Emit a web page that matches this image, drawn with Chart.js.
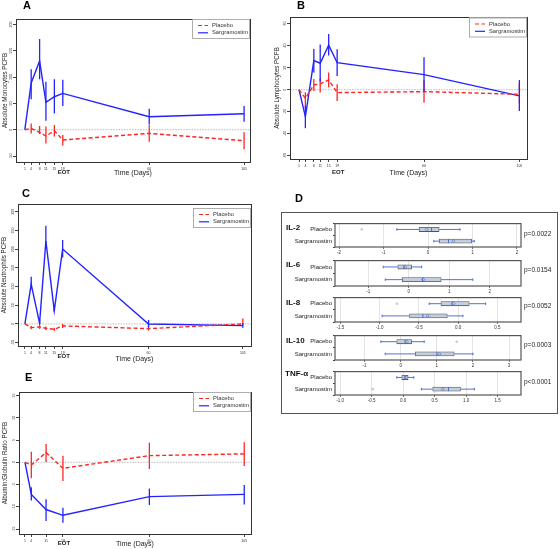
<!DOCTYPE html>
<html><head><meta charset="utf-8">
<script src="https://cdn.jsdelivr.net/npm/chart.js@4.4.1/dist/chart.umd.min.js"></script>
<style>
body{margin:0;background:#fff;width:560px;height:549px;position:relative;overflow:hidden;font-family:"Liberation Sans",Arial,sans-serif;}
canvas{position:absolute;}
.pl{position:absolute;font-size:11px;font-weight:bold;line-height:1;color:#000}
.cy{position:absolute;font-size:8px;font-weight:bold;line-height:1;color:#111}
.pv{position:absolute;font-size:6.5px;line-height:1;color:#222}
#dframe{position:absolute;left:281px;top:212px;width:275px;height:200px;border:1.5px solid #555;}
</style></head>
<body>
<div id="dframe"></div>
<canvas id="cA" width="280" height="180" style="left:0;top:0"></canvas>
<canvas id="cB" width="290" height="180" style="left:270px;top:0"></canvas>
<canvas id="cC" width="280" height="190" style="left:0;top:180px"></canvas>
<canvas id="cE" width="280" height="179" style="left:0;top:370px"></canvas>
<canvas id="d1" width="245" height="38" style="left:282px;top:219px"></canvas>
<canvas id="d2" width="245" height="40" style="left:282px;top:256px"></canvas>
<canvas id="d3" width="245" height="39" style="left:282px;top:293px"></canvas>
<canvas id="d4" width="245" height="39" style="left:282px;top:331px"></canvas>
<canvas id="d5" width="245" height="38" style="left:282px;top:367px"></canvas>
<div class="pl" style="left:23px;top:0px">A</div>
<div class="pl" style="left:297px;top:0px">B</div>
<div class="pl" style="left:22px;top:188px">C</div>
<div class="pl" style="left:295px;top:193px">D</div>
<div class="pl" style="left:25px;top:372px">E</div>
<div class="cy" style="left:286px;top:224px">IL-2</div>
<div class="cy" style="left:286px;top:261px">IL-6</div>
<div class="cy" style="left:286px;top:299px">IL-8</div>
<div class="cy" style="left:286px;top:337px">IL-10</div>
<div class="cy" style="left:285px;top:370px">TNF-α</div>
<div class="pv" style="left:524px;top:231px">p=0.0022</div>
<div class="pv" style="left:524px;top:267px">p=0.0154</div>
<div class="pv" style="left:524px;top:303px">p=0.0052</div>
<div class="pv" style="left:524px;top:342px">p=0.0003</div>
<div class="pv" style="left:524px;top:379px">p&lt;0.0001</div>
<script>
const FF = "'Liberation Sans', Arial, sans-serif";
const RED = '#ff2424', BLUE = '#2323ff';

// ---- time axes ----
const days = [1, 4, 8, 11, 15, 19, 60, 105];
const daysE = [1, 4, 11, 19, 60, 105];

// ---- A: monocytes ----
const monoPlacebo   = [0, 2.7, -5, -12, -2, -19.6, -7, -21];
const monoPlaceboLo = [0, -7, -8, -26, -13, -30, -23, -37];
const monoPlaceboHi = [0, 12, 7, 6, 9, -10, 9, -5];
const monoSarg      = [0, 89, 130.6, 52, 62.7, 69, 24.7, 30.4];
const monoSargLo    = [0, 58, 96, 17, 31, 45, 10, 15];
const monoSargHi    = [0, 115, 172.4, 91, 96, 95, 40, 45];
const monoTicks = [-50, 0, 50, 100, 150, 200];

// ---- B: lymphocytes ----
const lymPlacebo   = [0, -7.8, 4.3, 5.2, 8.8, -2.7, -1.8, -4.2];
const lymPlaceboLo = [0, -16, -1.2, -2.7, 2.2, -10.3, -11.8, -12.4];
const lymPlaceboHi = [0, -2.4, 9.7, 10.4, 15.5, 4.9, 8.8, 5.8];
const lymSarg      = [0, -24.5, 26.4, 24, 40.4, 24.5, 13.6, -5.7];
const lymSargLo    = [0, -35, 15.5, 7.3, 31, 12.5, -1.8, -19.4];
const lymSargHi    = [0, -14.8, 37, 41, 50.6, 36.7, 29.5, 8.8];
const lymTicks = [-60, -40, -20, 0, 20, 40, 60];

// ---- C: neutrophils ----
const neuPlacebo   = [0, -9.8, -8, -11.6, -14.3, -5.3, -12.5, 0];
const neuPlaceboLo = [0, -14.3, -13.2, -16, -19, -10.7, -17.8, -1.8];
const neuPlaceboHi = [0, -5.3, -4.3, -7, -10, 0, -5.3, 14.3];
const neuSarg      = [0, 106, 2, 222, 35.6, 200.5, 0, -4.5];
const neuSargLo    = [0, 95.5, 0, 211, 33, 178, -9, -10];
const neuSargHi    = [0, 126.5, 10, 263, 42, 224.6, 10.7, 2];
const neuTicks = [-50, 0, 50, 100, 150, 200, 250, 300];

// ---- E: albumin:globulin ----
const agPlacebo   = [0, -0.6, 2.2, -1.35, 1.5, 1.9];
const agPlaceboLo = [0, -3.6, 0.1, -4.2, -1.5, -0.8];
const agPlaceboHi = [0, 2.4, 4.1, 1.5, 4.4, 4.5];
const agSarg      = [0, -7.2, -10.6, -11.9, -7.7, -7.2];
const agSargLo    = [0, -8.6, -13.2, -13.6, -9.6, -9.5];
const agSargHi    = [0, -5.6, -8.3, -10.2, -5.9, -5.1];
const agTicks = [-15, -10, -5, 0, 5, 10, 15];

// ---- D: cytokines  [lowWhisker, q1, median, q3, highWhisker, mean] ----
const groups = ['Placebo', 'Sargramostim'];
const il2Placebo = [-0.70, -0.20, 0.08, 0.25, 0.72, -0.03], il2PlaceboOut = [-1.49];
const il2Sarg    = [0.13, 0.25, 0.46, 0.98, 1.04, 0.57],    il2SargOut = [];
const il6Placebo = [-0.63, -0.27, -0.12, 0.07, 0.32, -0.09], il6PlaceboOut = [];
const il6Sarg    = [-0.58, -0.16, 0.34, 0.80, 1.58, 0.36],   il6SargOut = [];
const il8Placebo = [-0.37, -0.22, -0.08, 0.14, 0.35, -0.06], il8PlaceboOut = [-0.78];
const il8Sarg    = [-0.97, -0.62, -0.45, -0.14, 0.06, -0.39], il8SargOut = [];
const il10Placebo = [-0.55, -0.11, 0.12, 0.30, 0.65, 0.17], il10PlaceboOut = [1.55];
const il10Sarg    = [-0.43, 0.40, 1.00, 1.48, 2.00, 1.07],  il10SargOut = [];
const tnfPlacebo = [-0.10, -0.02, 0.03, 0.08, 0.17, 0.04], tnfPlaceboOut = [];
const tnfSarg    = [0.29, 0.47, 0.72, 0.91, 1.13, 0.63],   tnfSargOut = [-0.48];
const il2Ticks = [-2, -1, 0, 1, 2];
const il6Ticks = [-1, 0, 1, 2];
const il8Ticks = [-1.5, -1, -0.5, 0, 0.5];
const il10Ticks = [-1, 0, 1, 2, 3];
const tnfTicks = [-1, -0.5, 0, 0.5, 1, 1.5];

const linePlugin = {
  id: 'linePlugin',
  beforeDatasetsDraw(chart) {
    const {ctx, chartArea: a, scales: {y}} = chart;
    const y0 = y.getPixelForValue(0);
    ctx.save();
    ctx.strokeStyle = '#c9c9c9'; ctx.lineWidth = 1.3; ctx.setLineDash([1.5, 1.2]);
    ctx.beginPath(); ctx.moveTo(a.left, y0); ctx.lineTo(a.right, y0); ctx.stroke();
    ctx.restore();
  },
  afterDatasetsDraw(chart) {
    const {ctx, scales: {x, y}} = chart;
    chart.data.datasets.forEach(ds => {
      ctx.save();
      ctx.strokeStyle = ds.borderColor; ctx.lineWidth = 1.3;
      ds.data.forEach((pt, j) => {
        if (ds.lo[j] === ds.hi[j]) return;
        const px = x.getPixelForValue(pt.x);
        ctx.beginPath();
        ctx.moveTo(px, y.getPixelForValue(ds.lo[j]));
        ctx.lineTo(px, y.getPixelForValue(ds.hi[j]));
        ctx.stroke();
      });
      ctx.restore();
    });
  },
  afterDraw(chart) {
    const {ctx, chartArea: a, scales: {x, y}} = chart;
    const o = chart.options.plugins.linePlugin;
    ctx.save();
    // frame
    ctx.strokeStyle = '#333'; ctx.lineWidth = 1;
    ctx.strokeRect(a.left + 0.5, a.top + 0.5, a.right - a.left, a.bottom - a.top);
    // rotated y tick labels
    ctx.fillStyle = '#333';
    ctx.font = '3.6px ' + FF;
    y.ticks.forEach(t => {
      const py = y.getPixelForValue(t.value);
      ctx.save();
      ctx.translate(a.left - 3.5, py);
      ctx.rotate(-Math.PI / 2);
      ctx.textAlign = 'center'; ctx.textBaseline = 'bottom';
      ctx.fillText(String(t.value), 0, 0);
      ctx.restore();
    });
    // EOT label
    ctx.font = 'bold 6px ' + FF;
    ctx.fillStyle = '#222';
    ctx.textAlign = 'center'; ctx.textBaseline = 'middle';
    ctx.fillText('EOT', x.getPixelForValue(19) + 1, a.bottom + o.eotDy);
    // legend
    const w = 58, h = 20;
    const lx = a.right - w, ly = a.top + o.legDy;
    ctx.fillStyle = '#fff'; ctx.fillRect(lx, ly, w, h);
    ctx.strokeStyle = '#999'; ctx.lineWidth = 0.8;
    ctx.strokeRect(lx + 0.5, ly + 0.5, w - 1, h - 1);
    ctx.font = '5.8px ' + FF; ctx.textAlign = 'left'; ctx.textBaseline = 'middle';
    chart.data.datasets.forEach((ds, i) => {
      const yy = ly + 6.5 + i * 7.3;
      ctx.strokeStyle = ds.borderColor; ctx.lineWidth = 1.2;
      ctx.setLineDash(ds.borderDash || []);
      ctx.beginPath(); ctx.moveTo(lx + 6, yy); ctx.lineTo(lx + 16, yy); ctx.stroke();
      ctx.setLineDash([]);
      ctx.fillStyle = '#333';
      ctx.fillText(ds.label, lx + 20, yy);
    });
    ctx.restore();
  }
};

function makeLine(id, o) {
  const pts = (xs, ys) => xs.map((x, i) => ({x: x, y: ys[i]}));
  return new Chart(document.getElementById(id), {
    type: 'line',
    data: {datasets: [
      {label: 'Placebo', data: pts(o.xs, o.p), lo: o.pLo, hi: o.pHi, borderColor: RED,
       borderDash: [4, 2.5], borderWidth: 1.4, pointRadius: 0, fill: false, tension: 0},
      {label: 'Sargramostim', data: pts(o.xs, o.s), lo: o.sLo, hi: o.sHi, borderColor: BLUE,
       borderWidth: 1.4, pointRadius: 0, fill: false, tension: 0}
    ]},
    options: {
      responsive: false, animation: false, devicePixelRatio: 1,
      layout: {padding: o.pad},
      plugins: {legend: {display: false}, tooltip: {enabled: false},
                linePlugin: {eotDy: o.eotDy, legDy: o.legDy}},
      scales: {
        x: {type: 'linear', min: o.xMin, max: o.xMax,
            afterBuildTicks: s => { s.ticks = o.xs.map(v => ({value: v})); },
            afterFit: s => { s.height = o.xH; },
            grid: {display: true, drawOnChartArea: false, tickLength: 3, color: '#444'},
            border: {display: false},
            ticks: {font: {size: 3.5, family: FF}, color: '#333', padding: 1.5,
                    maxRotation: 0, minRotation: 0, autoSkip: false, callback: v => String(v)},
            title: {display: true, text: 'Time (Days)', font: {size: 7, family: FF}, color: '#222',
                    padding: {top: 0, bottom: o.xtPad}}},
        y: {type: 'linear', min: o.yMin, max: o.yMax,
            afterBuildTicks: s => { s.ticks = o.yTicks.map(v => ({value: v})); },
            afterFit: s => { s.width = o.yW; },
            grid: {display: true, drawOnChartArea: false, tickLength: 3, color: '#444'},
            border: {display: false},
            ticks: {display: false},
            title: {display: true, text: o.yTitle, font: {size: 6.3, family: FF}, color: '#222',
                    padding: {top: o.ytPad, bottom: 0}}}
      }
    },
    plugins: [linePlugin]
  });
}

makeLine('cA', {xs: days, p: monoPlacebo, pLo: monoPlaceboLo, pHi: monoPlaceboHi,
  s: monoSarg, sLo: monoSargLo, sHi: monoSargHi, yTicks: monoTicks,
  yMin: -61.4, yMax: 210.5, xMin: -3.2, xMax: 107.8,
  pad: {top: 19, right: 30, left: 0, bottom: 0}, yW: 16, xH: 18, xtPad: 2.8, ytPad: 1,
  yTitle: 'Absolute Monocytes PCFB', eotDy: 10, legDy: 0});

makeLine('cB', {xs: days, p: lymPlacebo, pLo: lymPlaceboLo, pHi: lymPlaceboHi,
  s: lymSarg, sLo: lymSargLo, sHi: lymSargHi, yTicks: lymTicks,
  yMin: -63, yMax: 66, xMin: -3.25, xMax: 108.6,
  pad: {top: 17, right: 33, left: 0, bottom: 0}, yW: 20, xH: 21, xtPad: 3, ytPad: 3,
  yTitle: 'Absolute Lymphocytes PCFB', eotDy: 13, legDy: 0.5});

makeLine('cC', {xs: days, p: neuPlacebo, pLo: neuPlaceboLo, pHi: neuPlaceboHi,
  s: neuSarg, sLo: neuSargLo, sHi: neuSargHi, yTicks: neuTicks,
  yMin: -59, yMax: 321, xMin: -2.3, xMax: 108.9,
  pad: {top: 24, right: 29, left: 0, bottom: 0}, yW: 18, xH: 24, xtPad: 6.8, ytPad: 0,
  yTitle: 'Absolute Neutrophils PCFB', eotDy: 10, legDy: 4});

makeLine('cE', {xs: daysE, p: agPlacebo, pLo: agPlaceboLo, pHi: agPlaceboHi,
  s: agSarg, sLo: agSargLo, sHi: agSargHi, yTicks: agTicks,
  yMin: -16.1, yMax: 15.8, xMin: -1.84, xMax: 108.2,
  pad: {top: 22, right: 29, left: 0, bottom: 0}, yW: 19, xH: 15, xtPad: 0.6, ytPad: 1,
  yTitle: 'Albumin:Globulin Ratio PCFB', eotDy: 9.5, legDy: 0});

// ---- box plots ----
const boxPlugin = {
  id: 'boxPlugin',
  afterDatasetsDraw(chart) {
    const {ctx, scales: {x}} = chart;
    const ds = chart.data.datasets[0];
    const meta = chart.getDatasetMeta(0);
    const X = v => x.getPixelForValue(v);
    ctx.save();
    meta.data.forEach((bar, i) => {
      const st = ds.stats[i], cy = bar.y;
      ctx.strokeStyle = '#3f63d0'; ctx.lineWidth = 0.9;
      ctx.beginPath();
      ctx.moveTo(X(st[0]), cy); ctx.lineTo(X(st[1]), cy);
      ctx.moveTo(X(st[3]), cy); ctx.lineTo(X(st[4]), cy);
      ctx.moveTo(X(st[0]), cy - 1.3); ctx.lineTo(X(st[0]), cy + 1.3);
      ctx.moveTo(X(st[4]), cy - 1.3); ctx.lineTo(X(st[4]), cy + 1.3);
      ctx.stroke();
      // median
      ctx.strokeStyle = '#3f63d0'; ctx.lineWidth = 0.9;
      ctx.beginPath(); ctx.moveTo(X(st[2]), cy - 2); ctx.lineTo(X(st[2]), cy + 2); ctx.stroke();
      // mean diamond
      const mx = X(st[5]);
      ctx.lineWidth = 0.6;
      ctx.beginPath(); ctx.moveTo(mx, cy - 1.6); ctx.lineTo(mx + 1.6, cy); ctx.lineTo(mx, cy + 1.6);
      ctx.lineTo(mx - 1.6, cy); ctx.closePath(); ctx.stroke();
      // outliers
      ctx.strokeStyle = '#9a9a9a'; ctx.lineWidth = 0.6;
      ds.outl[i].forEach(v => { ctx.beginPath(); ctx.arc(X(v), cy, 0.9, 0, Math.PI * 2); ctx.stroke(); });
    });
    const a = chart.chartArea;
    ctx.strokeStyle = '#555'; ctx.lineWidth = 1.2;
    ctx.strokeRect(a.left, a.top, a.right - a.left, a.bottom - a.top);
    ctx.restore();
  }
};

function makeBox(id, o) {
  return new Chart(document.getElementById(id), {
    type: 'bar',
    data: {labels: groups, datasets: [{
      data: [[o.p[1], o.p[3]], [o.s[1], o.s[3]]], stats: [o.p, o.s], outl: [o.pOut, o.sOut],
      backgroundColor: '#c3cedc', borderColor: '#555', borderWidth: 0.8, borderSkipped: false,
      barThickness: 4.2}]},
    options: {
      indexAxis: 'y', responsive: false, animation: false, devicePixelRatio: 1,
      layout: {padding: {top: 2, right: 6, left: 0, bottom: 0}},
      plugins: {legend: {display: false}, tooltip: {enabled: false}},
      scales: {
        x: {type: 'linear', min: o.min, max: o.max,
            afterBuildTicks: s => { s.ticks = o.ticks.map(v => ({value: v})); },
            afterFit: s => { s.height = o.xH; },
            grid: {color: '#e4e4e4', drawOnChartArea: true, tickLength: 2, tickColor: '#777'},
            border: {display: false},
            ticks: {font: {size: 4.5, family: FF}, color: '#333', padding: 1.5, maxRotation: 0,
                    autoSkip: false, callback: v => o.dec ? Number(v).toFixed(1) : String(v)}},
        y: {afterFit: s => { s.width = 53; },
            grid: {drawOnChartArea: false, tickLength: 2, color: '#444'},
            border: {display: false},
            ticks: {font: {size: 6, family: FF}, color: '#222', padding: 1}}
      }
    },
    plugins: [boxPlugin]
  });
}

makeBox('d1', {p: il2Placebo, s: il2Sarg, pOut: il2PlaceboOut, sOut: il2SargOut, ticks: il2Ticks, min: -2.09, max: 2.09, xH: 10});
makeBox('d2', {p: il6Placebo, s: il6Sarg, pOut: il6PlaceboOut, sOut: il6SargOut, ticks: il6Ticks, min: -1.82, max: 2.77, xH: 10});
makeBox('d3', {p: il8Placebo, s: il8Sarg, pOut: il8PlaceboOut, sOut: il8SargOut, ticks: il8Ticks, min: -1.57, max: 0.80, xH: 10, dec: true});
makeBox('d4', {p: il10Placebo, s: il10Sarg, pOut: il10PlaceboOut, sOut: il10SargOut, ticks: il10Ticks, min: -1.82, max: 3.33, xH: 10});
makeBox('d5', {p: tnfPlacebo, s: tnfSarg, pOut: tnfPlaceboOut, sOut: tnfSargOut, ticks: tnfTicks, min: -1.08, max: 1.87, xH: 10, dec: true});
</script>
</body></html>
